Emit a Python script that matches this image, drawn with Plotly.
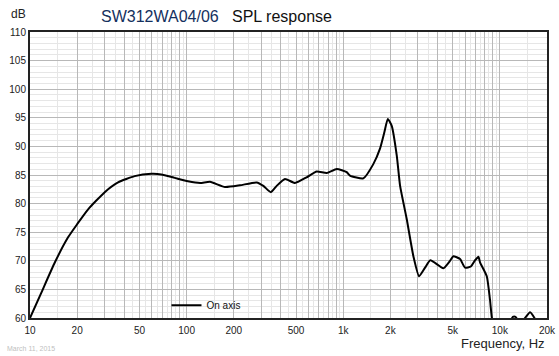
import plotly.graph_objects as go

# ---- data ----
freq = [10, 11.8, 14.4, 17.5, 20, 23.5, 30, 36.5, 46.6, 59.6, 68.9, 83.9, 102, 122, 141,
        176, 219, 280, 309, 345, 376, 425, 492, 584, 677, 785, 909, 1052, 1104, 1343,
        1556, 1717, 1832, 1925, 2040, 2197, 2307, 2543, 2805, 3050, 3329, 3600, 4357,
        4807, 5047, 5570, 5995, 6530, 6950, 7300, 7480, 8250, 8650, 8900, 9500, 11000,
        12100, 12600, 13500, 14300, 15600, 16800, 18000, 20000]
spl = [60, 64.4, 69.7, 74.1, 76.4, 79.0, 82.0, 83.7, 84.8, 85.2, 85.1, 84.5, 83.9, 83.6, 83.8,
       82.9, 83.2, 83.7, 83.1, 82.0, 83.1, 84.3, 83.6, 84.6, 85.6, 85.35, 86.05, 85.5, 84.9, 84.4,
       86.9, 89.6, 92.5, 94.8, 93.6, 88.4, 83.1, 77.3, 70.8, 67.3, 68.8, 70.1, 68.7,
       70.0, 70.8, 70.3, 68.8, 69.0, 70.1, 70.7, 69.7, 67.3, 63.2, 60, 57, 58,
       60.2, 60.2, 59, 59.8, 61.0, 59.8, 58, 58]

x_major = [m * 10 ** e for e in (1, 2, 3) for m in range(1, 10)] + [10000, 20000]
x_labels = {10: "10", 20: "20", 50: "50", 100: "100", 200: "200", 500: "500",
            1000: "1k", 2000: "2k", 5000: "5k", 10000: "10k", 20000: "20k"}
x_text = [x_labels.get(v, "") for v in x_major]
x_minor = [m * 10 ** e for e in (1, 2, 3) for m in (1.5, 2.5, 3.5, 4.5, 5.5, 6.5, 7.5, 8.5, 9.5)] + [15000]
y_ticks = list(range(60, 111, 5))

font = "Liberation Sans, Arial, sans-serif"

fig = go.Figure()
fig.add_trace(go.Scatter(x=freq, y=spl, mode="lines", name="On axis",
                         line=dict(color="black", width=2, shape="spline", smoothing=0.5)))

fig.update_layout(
    width=559, height=356,
    margin=dict(l=30, r=12, t=32, b=38),
    paper_bgcolor="white", plot_bgcolor="white",
    font=dict(family=font, size=10, color="#222"),
    showlegend=True,
    legend=dict(x=0.264, y=0.045, xanchor="left", yanchor="middle",
                bgcolor="rgba(0,0,0,0)", font=dict(size=10, color="#111"),
                itemwidth=30, tracegroupgap=0),
)
fig.update_xaxes(type="log", range=[1, 4.30103], tickmode="array",
                 tickvals=x_major, ticktext=x_text, ticks="", automargin=False,
                 ticklabelstandoff=2,
                 showgrid=True, gridcolor="#b8b8b8", gridwidth=1,
                 minor=dict(tickvals=x_minor, showgrid=True, gridcolor="#e6e6e6", gridwidth=1, ticks=""),
                 showline=True, linecolor="#222", linewidth=2, mirror=True,
                 zeroline=False, tickfont=dict(size=10, color="#222"))
fig.update_yaxes(range=[60, 110], tickmode="array", tickvals=y_ticks, ticks="", automargin=False,
                 showgrid=True, gridcolor="#b8b8b8", gridwidth=1,
                 minor=dict(dtick=1, showgrid=True, gridcolor="#e6e6e6", gridwidth=1, ticks=""),
                 showline=True, linecolor="#222", linewidth=2, mirror=True,
                 zeroline=False, tickfont=dict(size=10, color="#222"))

fig.add_annotation(x=(99 - 30) / 517, y=1 + (32 - 17) / 286, xref="paper", yref="paper",
                   xanchor="left", yanchor="middle", showarrow=False,
                   text="<span style='color:#14305e'>SW312WA04/06</span>   SPL response",
                   font=dict(size=16, color="#111", family=font))
fig.add_annotation(x=(9 - 30) / 517, y=1 + (32 - 14) / 286, xref="paper", yref="paper",
                   xanchor="left", yanchor="middle", showarrow=False,
                   text="dB", font=dict(size=12, color="#222", family=font))
fig.add_annotation(x=1.0, y=-(343 - 318) / 286, xref="paper", yref="paper",
                   xanchor="right", yanchor="middle", showarrow=False,
                   text="Frequency, Hz", font=dict(size=13, color="#222", family=font))
fig.add_annotation(x=(5 - 30) / 517, y=-(348 - 318) / 286, xref="paper", yref="paper",
                   xanchor="left", yanchor="middle", showarrow=False,
                   text="March 11, 2015", font=dict(size=7, color="#c0c0c0", family=font))

fig.write_html("out.html", config={"displayModeBar": False},
               post_script="document.body.style.margin='0';document.body.style.overflow='hidden';")
